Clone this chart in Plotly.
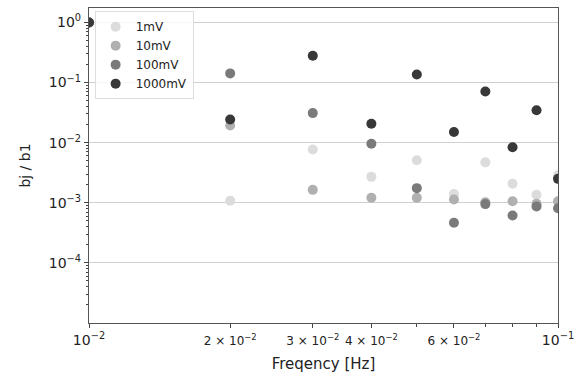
import plotly.graph_objects as go

freq = [0.01, 0.02, 0.03, 0.04, 0.05, 0.06, 0.07, 0.08, 0.09, 0.1]

series_names = ["1mV", "10mV", "100mV", "1000mV"]
vals_1mV = [1.0, 0.00108, 0.0077, 0.0027, 0.0051, 0.0014, 0.0047, 0.00207, 0.00136, 0.0029]
vals_10mV = [1.0, 0.0193, 0.00164, 0.00121, 0.00121, 0.00113, 0.00102, 0.00106, 0.00096, 0.00106]
vals_100mV = [1.0, 0.142, 0.031, 0.0096, 0.00175, 0.000465, 0.00095, 0.000615, 0.00087, 0.00081]
vals_1000mV = [1.0, 0.0243, 0.279, 0.0206, 0.136, 0.015, 0.071, 0.0084, 0.0347, 0.0025]
colors = ["#dcdcdc", "#b0b0b0", "#7a7a7a", "#383838"]

x_tickvals = [0.01, 0.02, 0.03, 0.04, 0.06, 0.1]
x_ticktext = [
    "10<sup>−2</sup>",
    '<span style="font-size:12px">2 × 10<sup>−2</sup></span>',
    '<span style="font-size:12px">3 × 10<sup>−2</sup></span>',
    '<span style="font-size:12px">4 × 10<sup>−2</sup></span>',
    '<span style="font-size:12px">6 × 10<sup>−2</sup></span>',
    "10<sup>−1</sup>",
]
x_minor = [0.05, 0.07, 0.08, 0.09]
y_tickvals = [1, 0.1, 0.01, 0.001, 0.0001]
y_ticktext = ["10<sup>0</sup>", "10<sup>−1</sup>", "10<sup>−2</sup>", "10<sup>−3</sup>", "10<sup>−4</sup>"]
y_minor = [m * 10.0 ** e for e in range(-5, 1) for m in range(2, 10)]

fig = go.Figure()
for name, vals, col in zip(series_names, [vals_1mV, vals_10mV, vals_100mV, vals_1000mV], colors):
    fig.add_trace(go.Scatter(
        x=freq, y=vals, mode="markers", name=name,
        marker=dict(color=col, size=10, line=dict(width=0)),
        cliponaxis=True,
    ))

fig.update_layout(
    width=585, height=378,
    margin=dict(l=89, r=27, t=8, b=55),
    paper_bgcolor="white", plot_bgcolor="white",
    font=dict(family="DejaVu Sans", color="#222222", size=14),
    showlegend=True,
    legend=dict(
        x=0.012, y=0.99, xanchor="left", yanchor="top",
        bgcolor="rgba(255,255,255,0.8)", bordercolor="#dddddd", borderwidth=1,
        font=dict(size=12, family="DejaVu Sans", color="#222222"),
        tracegroupgap=0, itemwidth=30,
    ),
    xaxis=dict(
        type="log", range=[-2, -1],
        tickmode="array", tickvals=x_tickvals, ticktext=x_ticktext,
        ticks="outside", ticklen=4, tickcolor="#444444",
        showgrid=False, zeroline=False,
        showline=True, linecolor="#555555", linewidth=1.3, mirror=True,
        minor=dict(tickmode="array", tickvals=x_minor, ticks="outside", ticklen=3, tickcolor="#444444", showgrid=False),
        title=dict(text="Freqency [Hz]", font=dict(size=15), standoff=11),
        tickfont=dict(size=14),
    ),
    yaxis=dict(
        type="log", range=[-5.0, 0.24],
        tickmode="array", tickvals=y_tickvals, ticktext=y_ticktext,
        ticks="outside", ticklen=4, tickcolor="#444444",
        showgrid=True, gridcolor="#d0d0d0", gridwidth=1, zeroline=False,
        showline=True, linecolor="#555555", linewidth=1.3, mirror=True,
        minor=dict(tickmode="array", tickvals=y_minor, ticks="outside", ticklen=2, tickcolor="#444444", showgrid=False),
        title=dict(text="bj / b1", font=dict(size=14), standoff=14),
        tickfont=dict(size=14),
    ),
)

fig.write_html("out.html")
